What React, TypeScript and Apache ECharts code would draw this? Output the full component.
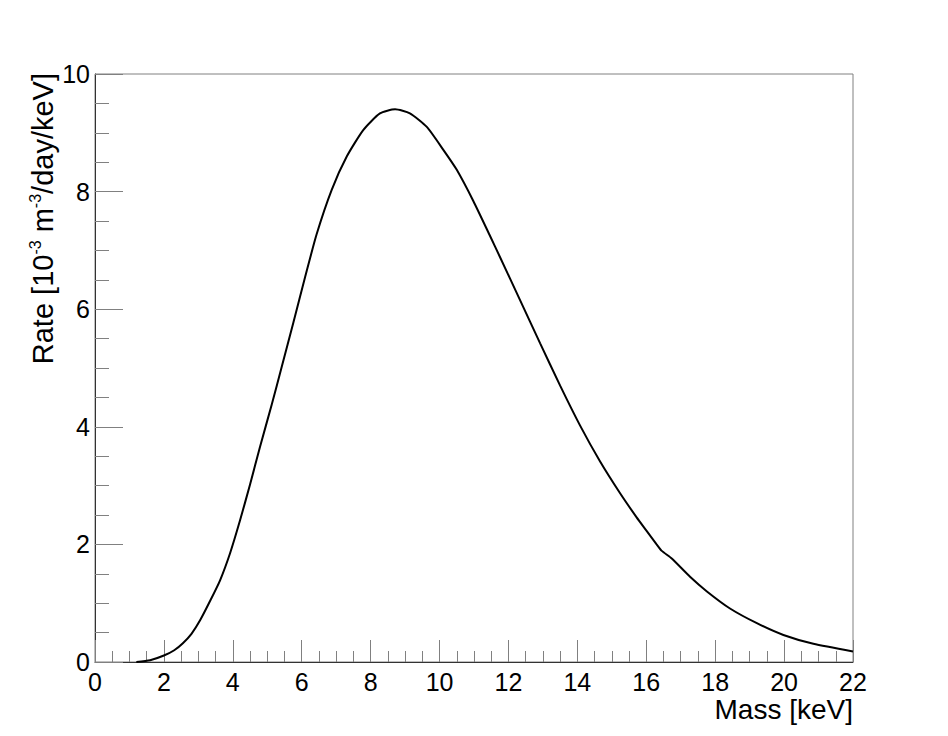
import React, { useEffect, useRef } from "react";
import * as echarts from "echarts";

const massKeV = [1.2, 1.6, 2.0, 2.3, 2.55, 2.8, 3.05, 3.35, 3.63, 3.92, 4.21, 4.5, 4.79, 5.13, 5.42, 5.76, 6.1, 6.43, 6.87, 7.31, 7.79, 8.27, 8.71, 9.14, 9.63, 10.11, 10.5, 10.98, 11.47, 11.76, 12.34, 12.92, 13.5, 14.08, 14.66, 15.24, 15.72, 16.01, 16.3, 16.45, 16.74, 17.27, 17.76, 18.43, 19.21, 19.98, 20.85, 22.0];
const rate = [0, 0.03, 0.11, 0.2, 0.32, 0.48, 0.71, 1.05, 1.39, 1.85, 2.41, 3.02, 3.66, 4.38, 5.02, 5.78, 6.55, 7.27, 8.03, 8.6, 9.05, 9.33, 9.4, 9.33, 9.1, 8.71, 8.37, 7.84, 7.24, 6.88, 6.15, 5.42, 4.7, 4.02, 3.41, 2.87, 2.46, 2.23, 2.0, 1.89, 1.76, 1.45, 1.2, 0.91, 0.66, 0.46, 0.31, 0.18];

const xTitle = "Mass [keV]";
const yTitle = "Rate [10{sup|-3} m{sup|-3}/day/keV]";

const FONT = "'Liberation Sans', Arial, Helvetica, sans-serif";

export default function App() {
  const ref = useRef<HTMLDivElement>(null);
  useEffect(() => {
    if (!ref.current) return;
    const chart = echarts.init(ref.current, null, { renderer: "svg" });
    const data = massKeV.map((x, i) => [x, rate[i]]);
    chart.setOption({
      animation: false,
      backgroundColor: "#ffffff",
      grid: {
        left: 95,
        top: 74,
        right: 95,
        bottom: 74,
        show: true,
        borderColor: "#808080",
        borderWidth: 1,
        backgroundColor: "transparent",
      },
      xAxis: {
        type: "value",
        min: 0,
        max: 22,
        interval: 2,
        axisLine: { show: true, onZero: false, lineStyle: { color: "#333333", width: 1 } },
        axisTick: { show: true, inside: true, length: 22, lineStyle: { color: "#808080", width: 1 } },
        minorTick: { show: true, splitNumber: 4, length: 11, lineStyle: { color: "#808080", width: 1 } },
        splitLine: { show: false },
        axisLabel: { fontSize: 25, color: "#000", fontFamily: FONT, margin: 7 },
      },
      yAxis: {
        type: "value",
        min: 0,
        max: 10,
        interval: 2,
        axisLine: { show: true, onZero: false, lineStyle: { color: "#333333", width: 1 } },
        axisTick: { show: true, inside: true, length: 28, lineStyle: { color: "#808080", width: 1 } },
        minorTick: { show: true, splitNumber: 4, length: 14, lineStyle: { color: "#808080", width: 1 } },
        splitLine: { show: false },
        axisLabel: { fontSize: 25, color: "#000", fontFamily: FONT, margin: 5 },
      },
      graphic: [
        {
          type: "text",
          right: 95,
          top: 695,
          style: { text: xTitle, font: `28px ${FONT}`, fill: "#000" },
        },
        {
          type: "text",
          x: 43,
          y: 73,
          rotation: Math.PI / 2,
          style: {
            text: yTitle,
            fill: "#000",
            fontSize: 29,
            fontFamily: FONT,
            align: "right",
            verticalAlign: "middle",
            lineHeight: 32,
            rich: {
              sup: { fontSize: 16, fontFamily: FONT, fill: "#000", verticalAlign: "top", lineHeight: 32 },
            },
          },
        },
      ],
      series: [
        {
          type: "line",
          data,
          showSymbol: false,
          smooth: 0.2,
          lineStyle: { color: "#000", width: 2 },
          z: 3,
        },
      ],
    });
    return () => chart.dispose();
  }, []);
  return <div ref={ref} style={{ position: "fixed", left: 0, top: 0, width: 948, height: 736 }} />;
}
